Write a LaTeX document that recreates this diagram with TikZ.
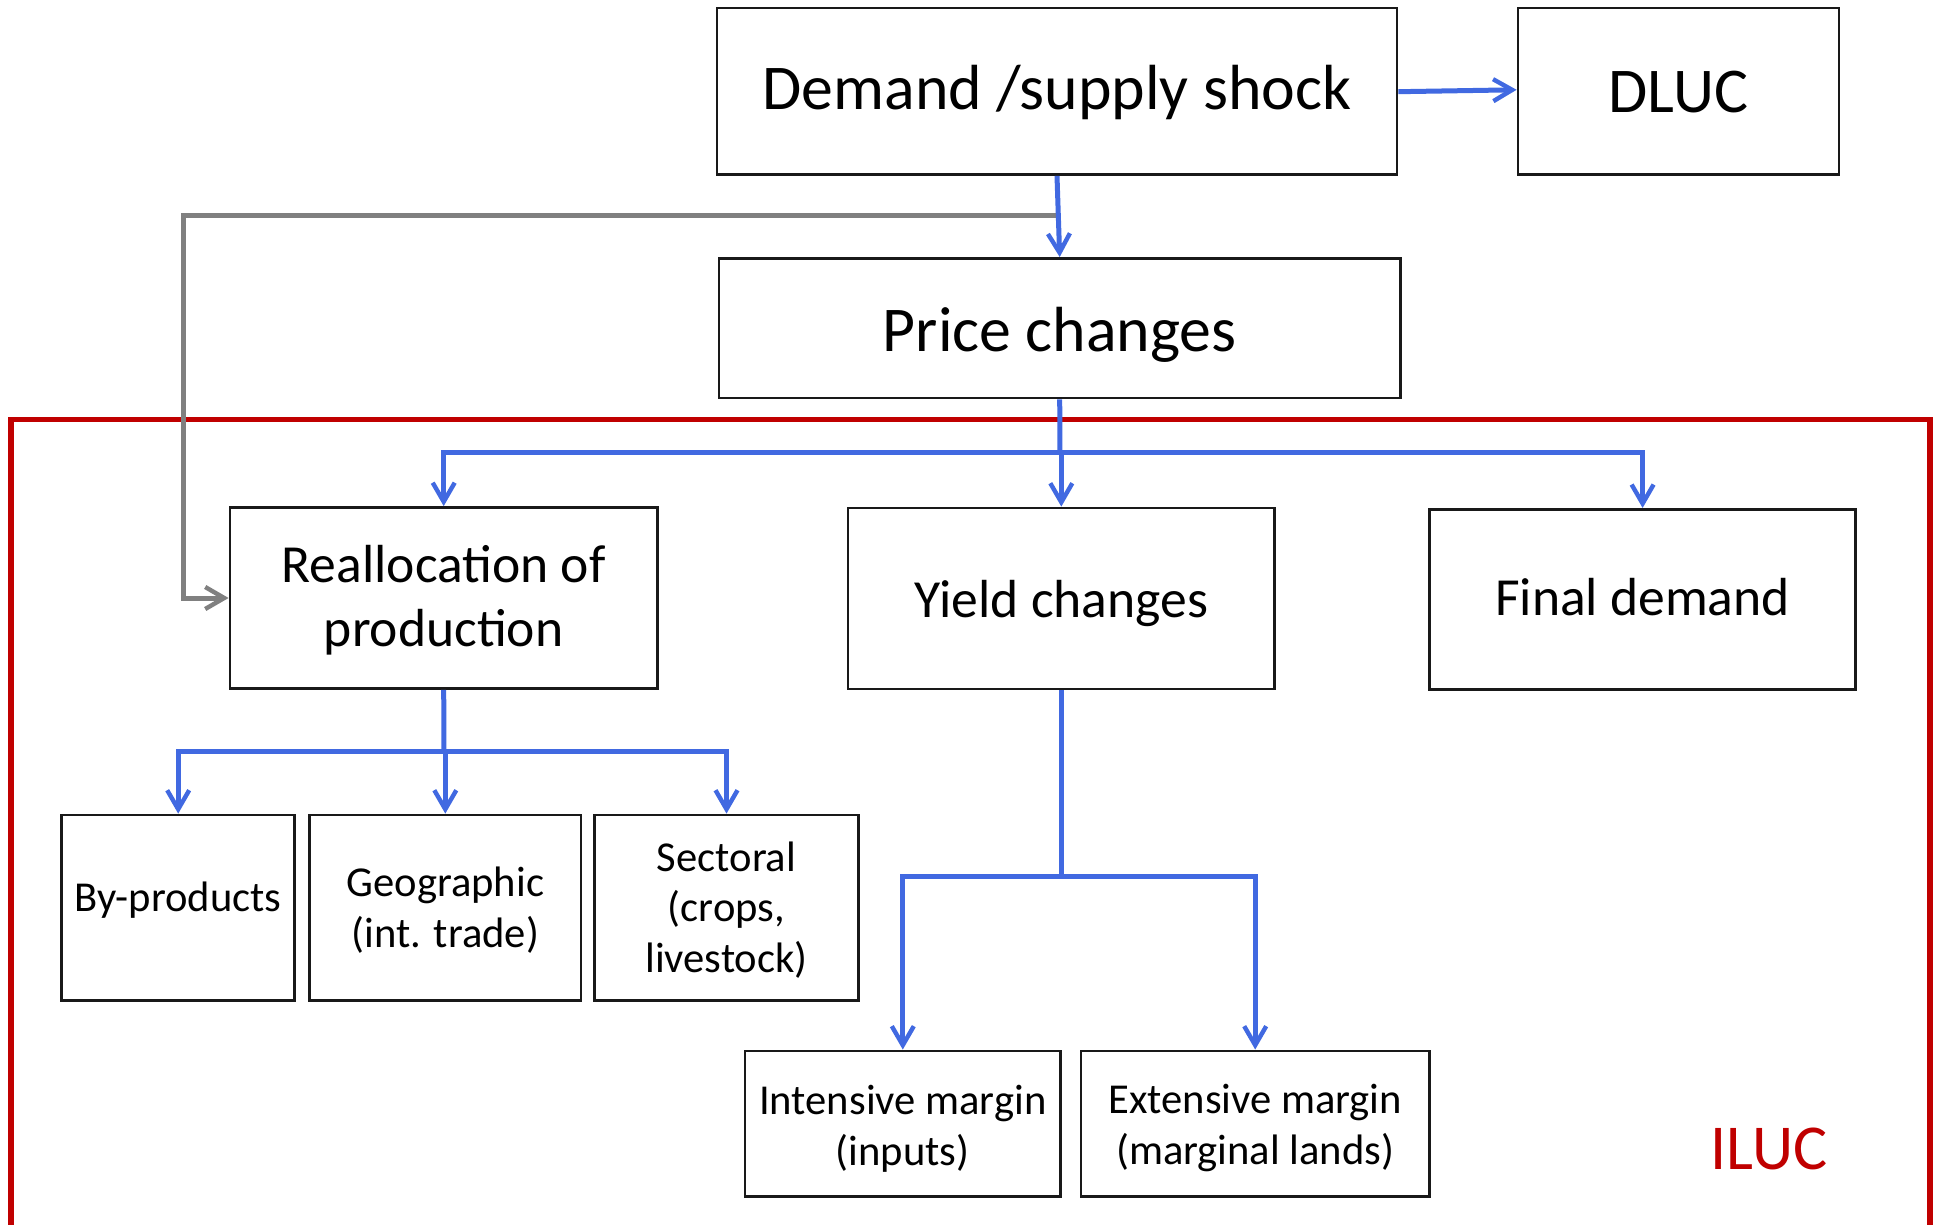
\documentclass[tikz,border=0pt]{standalone}
\usepackage{fontspec}
\setmainfont{Carlito}
\usetikzlibrary{arrows.meta}
\definecolor{arrblue}{RGB}{65,105,225}
\definecolor{iluc}{RGB}{192,0,0}
\definecolor{greyl}{RGB}{128,128,128}
\newcommand{\mltext}[2]{\raisebox{0pt}[0pt][#1]{\begin{tabular}[t]{@{}c@{}}#2\end{tabular}}}
\begin{document}
\begin{tikzpicture}[x=0.5pt,y=-0.5pt,
  box/.style={draw=black!90, line width=1.4pt, rectangle, inner sep=0pt},
  bigtext/.style={font=\fontsize{31.9}{38}\selectfont},
  midtext/.style={font=\fontsize{26.8}{32}\selectfont},
  smalltext/.style={font=\fontsize{21.3}{25.3}\selectfont},
  arr/.style={-{Straight Barb[length=9.5pt,width=11pt,line width=2.2pt]}},
  bl/.style={draw=arrblue, line width=2.5pt},
  gr/.style={draw=greyl, line width=2.5pt},
]
\clip (0,0) rectangle (1934,1225);
\fill[white] (0,0) rectangle (1934,1225);

% ILUC frame
\draw[iluc, line width=2.75pt] (11,419.6) rectangle (1930,1300);

% nodes
\node[box,bigtext,minimum width=340pt,minimum height=83.25pt,text height=20pt,text depth=2pt] (demand) at (1057,91.2) {Demand /supply shock};
\node[box,bigtext,minimum width=160.5pt,minimum height=83.25pt,text height=23pt,text depth=2pt] (dluc) at (1678.5,91.2) {DLUC};
\node[box,bigtext,minimum width=340.75pt,minimum height=69.8pt,text height=25.3pt,text depth=2pt] (price) at (1059.7,328.2) {Price changes};
\node[box,midtext,minimum width=213.7pt,minimum height=90.5pt] (realloc) at (443.7,598) {\mltext{16pt}{Reallocation of\\production}};
\node[box,midtext,minimum width=213.35pt,minimum height=90.5pt,text height=21pt,text depth=2pt] (yield) at (1061.3,598.5) {Yield changes};
\node[box,midtext,minimum width=213.1pt,minimum height=90.15pt,text height=17.5pt,text depth=2pt] (final) at (1642.6,599.5) {Final demand};
\node[box,smalltext,minimum width=116.5pt,minimum height=92.7pt,text height=5.3pt,text depth=2pt] (byp) at (178.2,907.7) {By-products};
\node[box,smalltext,minimum width=135.7pt,minimum height=92.7pt] (geo) at (445.3,907.7) {\mltext{11.3pt}{Geographic\\(int. trade)}};
\node[box,smalltext,minimum width=132pt,minimum height=92.7pt] (sect) at (726.5,907.7) {\mltext{36.7pt}{Sectoral\\(crops,\\livestock)}};
\node[box,smalltext,minimum width=157.85pt,minimum height=72.65pt] (inten) at (902.8,1123.6) {\mltext{9.2pt}{Intensive margin\\(inputs)}};
\node[box,smalltext,minimum width=174.25pt,minimum height=72.65pt] (exten) at (1255.2,1123.6) {\mltext{9.9pt}{Extensive margin\\(marginal lands)}};
\node[font=\fontsize{32}{38}\selectfont, text=iluc, anchor=base, inner sep=0pt] (ilucl) at (1769,1169.4) {ILUC};

% grey feedback connector
\coordinate (g1) at (183,215.5);
\draw[gr,arr] (demand.south |- g1) -- (g1) |- (realloc.west);

% blue connectors
\draw[bl,arr] ([yshift=-0.25pt]demand.east) -- ([yshift=0.7pt]dluc.west);
\draw[bl,arr] (demand.south) -- (price.north);

\coordinate (j1) at (1060,452.8);
\draw[bl] (price.south) -- (j1);
\draw[bl,arr] (j1) -| (realloc.north);
\draw[bl,arr] (j1) -| (yield.north);
\draw[bl,arr] (j1) -| (final.north);

\coordinate (j2) at (444,751.7);
\draw[bl] (realloc.south) -- (j2);
\draw[bl,arr] (j2) -| (byp.north);
\draw[bl,arr] (j2) -| (geo.north);
\draw[bl,arr] (j2) -| (sect.north);

\coordinate (j3) at (1061.3,876);
\draw[bl] (yield.south) -- (j3);
\draw[bl,arr] (j3) -| (inten.north);
\draw[bl,arr] (j3) -| (exten.north);
\end{tikzpicture}
\end{document}
